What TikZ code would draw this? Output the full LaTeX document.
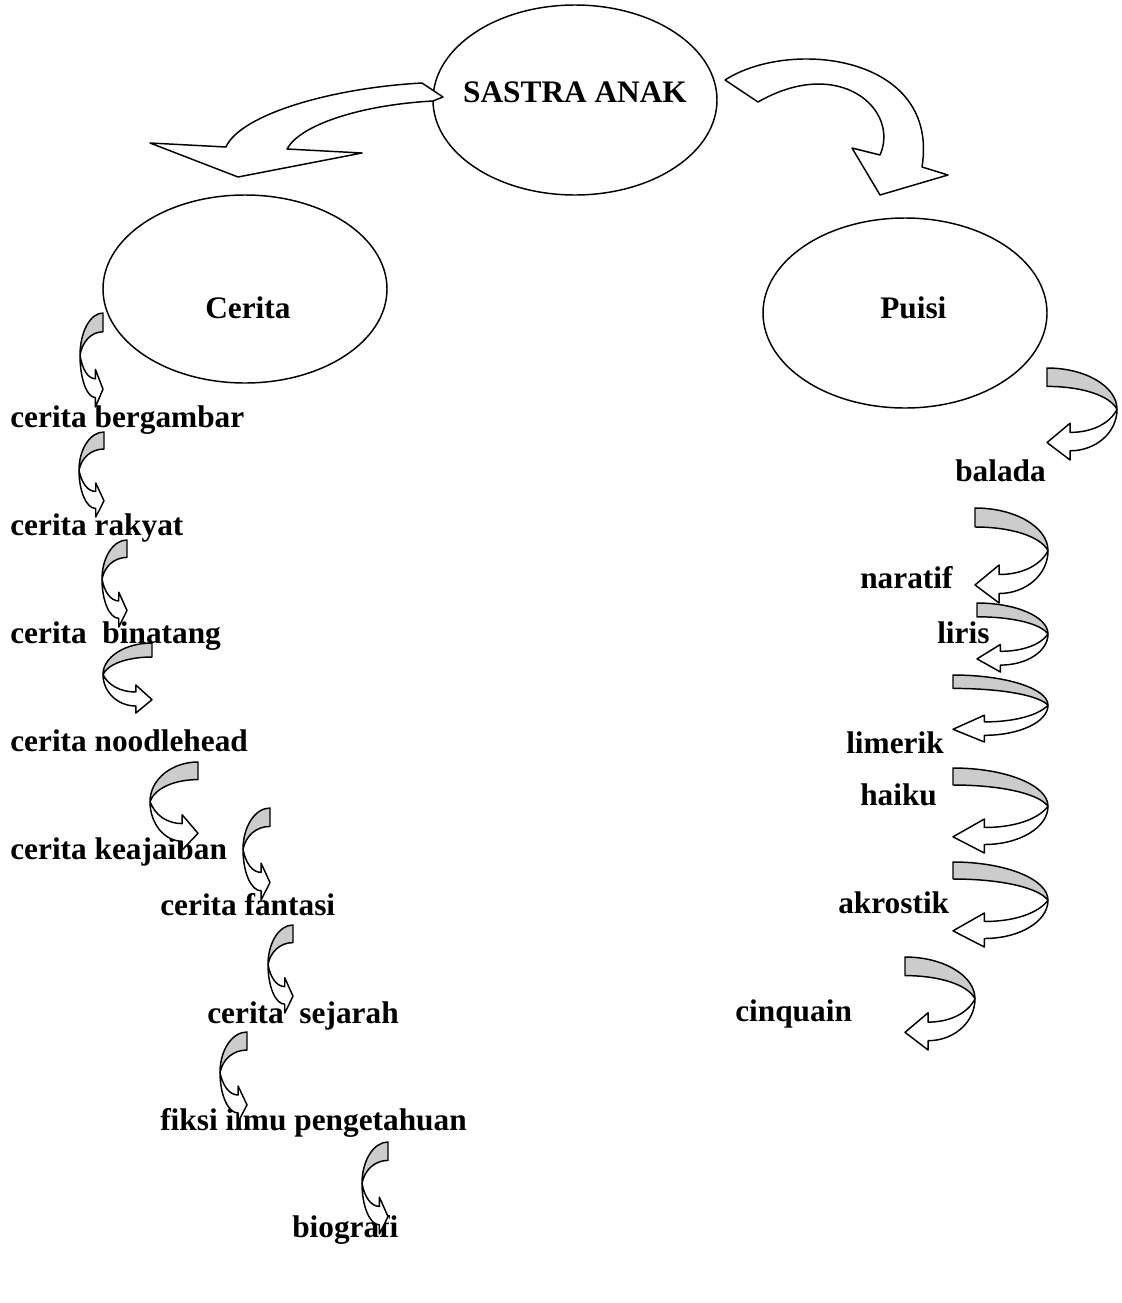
\documentclass[tikz,border=0pt]{standalone}
\usepackage{fontspec}
\setmainfont{Liberation Serif}
\usepackage{xcolor}

\definecolor{ribbongray}{RGB}{204,204,204}
\tikzset{
  lbl/.style={anchor=base west, inner sep=0pt, font=\fontsize{23.5}{28}\selectfont\bfseries},
  outline/.style={line width=1.1pt, line join=round},
}

% curled ribbon arrow in a box (x,y,w,h): curl on the left, head to the right
\newcommand{\bendarrowL}[4]{%
\begin{scope}[shift={(#1,#2)}, xscale=#3, yscale=#4]
\draw [outline, fill=ribbongray] (1,0) .. controls (0.45,0) and (0,0.2) .. (0,0.45) .. controls (0.1,0.3) and (0.5,0.2) .. (1,0.2) -- cycle ;
\draw [outline, fill=white] (0,0.45) .. controls (0.1,0.6) and (0.35,0.7) .. (0.67,0.7) -- (0.67,0.6) -- (1,0.81) -- (0.67,1) -- (0.67,0.9) .. controls (0.3,0.9) and (0,0.7) .. (0,0.45) -- cycle ;
\end{scope}}
% same, mirrored: curl on the right, head to the left
\newcommand{\bendarrowR}[4]{%
\begin{scope}[shift={({#1+#3},#2)}, xscale=-#3, yscale=#4]
\draw [outline, fill=ribbongray] (1,0) .. controls (0.45,0) and (0,0.2) .. (0,0.45) .. controls (0.1,0.3) and (0.5,0.2) .. (1,0.2) -- cycle ;
\draw [outline, fill=white] (0,0.45) .. controls (0.1,0.6) and (0.35,0.7) .. (0.67,0.7) -- (0.67,0.6) -- (1,0.81) -- (0.67,1) -- (0.67,0.9) .. controls (0.3,0.9) and (0,0.7) .. (0,0.45) -- cycle ;
\end{scope}}

\begin{document}
\begin{tikzpicture}[x=0.75pt,y=0.75pt,yscale=-1,xscale=1]
\path [use as bounding box] (0,0) rectangle (1121,1303);

%Shape: Ellipse [sastra]
\draw [outline] (575,100) ellipse [x radius=142, y radius=95];
%Shape: Ellipse [cerita]
\draw [outline] (245,289) ellipse [x radius=142, y radius=94];
%Shape: Ellipse [puisi]
\draw [outline] (905,313) ellipse [x radius=142, y radius=95];

% Text Node
\node [lbl, anchor=base] (sastra) at (575,102) {SASTRA ANAK};
% Text Node
\node [lbl] (cerita) at (205,318) {Cerita};
% Text Node
\node [lbl] (puisi) at (880,318) {Puisi};

% Text Node
\node [lbl] (bergambar) at (10,427) {cerita bergambar};
% Text Node
\node [lbl] (rakyat) at (10,535) {cerita rakyat};
% Text Node
\node [lbl] (binatang) at (10,643) {cerita~~binatang};
% Text Node
\node [lbl] (noodlehead) at (10,751) {cerita noodlehead};
% Text Node
\node [lbl] (keajaiban) at (10,859) {cerita keajaiban};
% Text Node
\node [lbl] (fantasi) at (160,915) {cerita fantasi};
% Text Node
\node [lbl] (sejarah) at (207,1023) {cerita~~sejarah};
% Text Node
\node [lbl] (fiksi) at (160,1130) {fiksi ilmu pengetahuan};
% Text Node
\node [lbl] (biografi) at (292,1237) {biografi};

% Text Node
\node [lbl] (balada) at (955,481) {balada};
% Text Node
\node [lbl] (naratif) at (860,588) {naratif};
% Text Node
\node [lbl] (liris) at (937,643) {liris};
% Text Node
\node [lbl] (limerik) at (846,753) {limerik};
% Text Node
\node [lbl] (haiku) at (860,805) {haiku};
% Text Node
\node [lbl] (akrostik) at (838,913) {akrostik};
% Text Node
\node [lbl] (cinquain) at (735,1021) {cinquain};

%Curved Arrow [to cerita]
\draw [outline, fill=white] (422,83) .. controls (330,88) and (240,115) .. (226,147) -- (150,143) -- (238,177) -- (362,153) -- (287,149) .. controls (300,125) and (360,105) .. (433,101) -- (443,97) -- cycle ;
%Curved Arrow [to puisi]
\draw [outline, fill=white] (725,80) .. controls (790,38) and (940,55) .. (922,167) -- (948,175) -- (880,195) -- (852,148) -- (880,155) .. controls (900,110) and (840,55) .. (758,102) -- cycle ;

%Curled Arrows, left column
\bendarrowL{80}{313}{23}{94}
\bendarrowL{79}{432}{25}{85}
\bendarrowL{102}{540}{25}{87}
\bendarrowL{103}{643}{49}{70}
\bendarrowL{150}{762}{48}{88}
\bendarrowL{243}{808}{27}{92}
\bendarrowL{268}{925}{25}{88}
\bendarrowL{220}{1032}{27}{90}
\bendarrowL{362}{1142}{26}{92}

%Curled Arrows, right column
\bendarrowR{1047}{368}{70}{92}
\bendarrowR{975}{508}{73}{95}
\bendarrowR{977}{603}{71}{69}
\bendarrowR{953}{675}{95}{67}
\bendarrowR{953}{768}{95}{85}
\bendarrowR{953}{862}{95}{85}
\bendarrowR{905}{957}{70}{93}

\end{tikzpicture}
\end{document}
